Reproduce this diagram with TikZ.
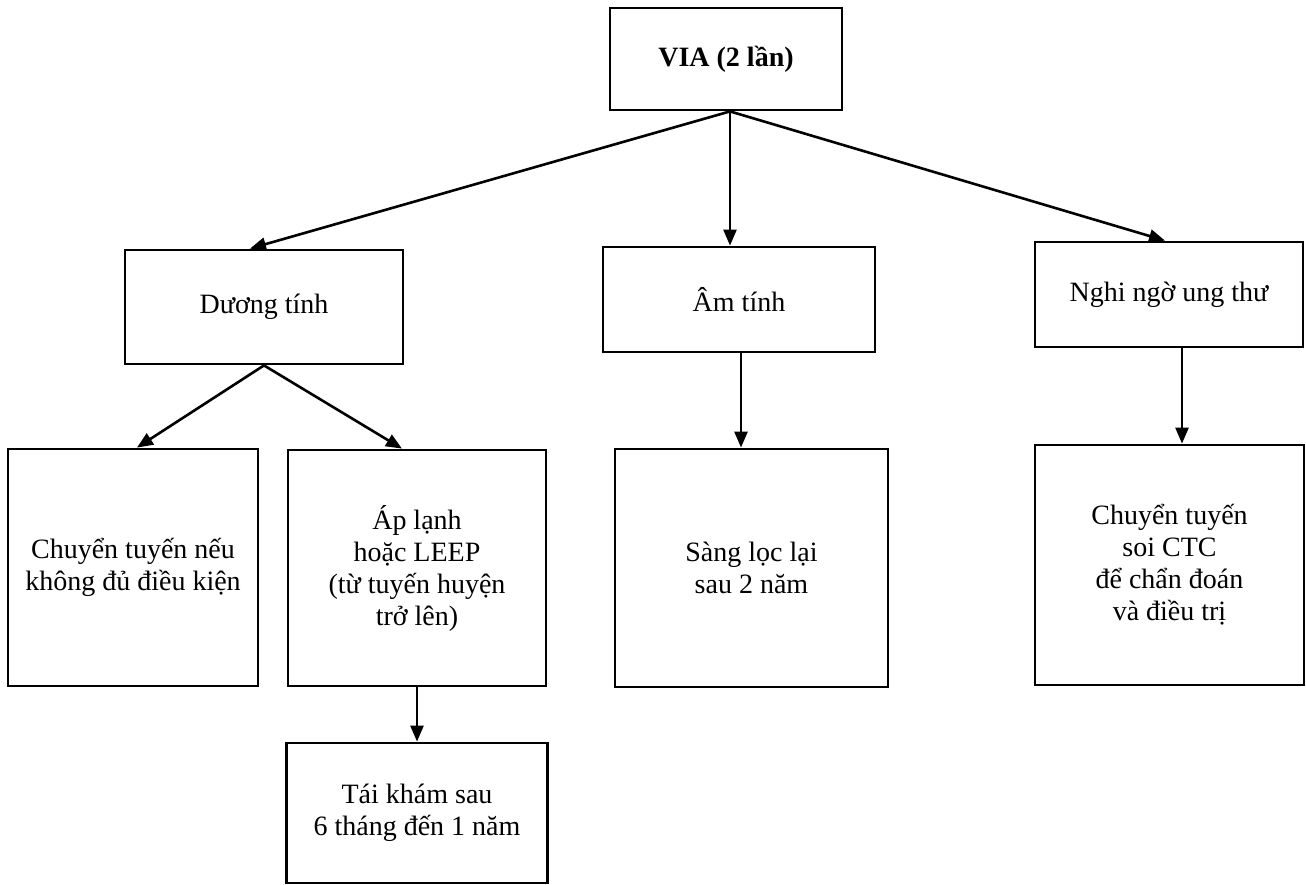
\documentclass[tikz,border=0pt]{standalone}
\usepackage{fontspec}
\setmainfont{Liberation Serif}
\usetikzlibrary{arrows.meta,calc}
\tikzset{
  box/.style={draw, line width=2.8pt, align=center, inner sep=0pt,
    font=\fontsize{28}{32}\selectfont},
  arr/.style={line width=2.6pt, -{Triangle[length=16pt,width=13pt]}}
}
\begin{document}
\begin{tikzpicture}[x=1pt,y=-1pt]
\useasboundingbox[fill=white] (0,0) rectangle (1306,885);
% top
\node[box, minimum width=232pt, minimum height=102pt,
  font=\bfseries\fontsize{28}{32}\selectfont] (via) at (726,59) {VIA (2 lần)};
% second row
\node[box, minimum width=278pt, minimum height=114pt] (pos) at (264,307) {Dương tính};
\node[box, minimum width=272pt, minimum height=105pt] (neg) at (739,299.5) {Âm tính};
\node[box, minimum width=268pt, minimum height=105pt] (sus) at (1169,294.5) {Nghi ngờ ung thư};
% third row
\node[box, minimum width=250pt, minimum height=237pt] (ref) at (133,567.5)
  {Chuyển tuyến nếu\\không đủ điều kiện};
\node[box, minimum width=258pt, minimum height=236pt] (ap) at (417,568)
  {Áp lạnh\\hoặc LEEP\\(từ tuyến huyện\\trở lên)};
\node[box, minimum width=273pt, minimum height=238pt] (sl) at (751.5,568)
  {Sàng lọc lại\\sau 2 năm};
\node[box, minimum width=269pt, minimum height=240pt] (ctc) at (1169.5,565)
  {Chuyển tuyến\\soi CTC\\để chẩn đoán\\và điều trị};
% fourth row
\node[box, minimum width=261pt, minimum height=140pt] (tk) at (417,813)
  {Tái khám sau\\6 tháng đến 1 năm};
% connectors
\coordinate (vs) at ($(via.south)+(4,0)$);
\draw[arr] (vs) -- ($(pos.north)+(-14,0)$);
\draw[arr] (vs) -- (vs |- neg.north);
\draw[arr] (vs) -- ($(sus.north)+(-4,0)$);
\draw[arr] (pos.south) -- ($(ref.north)+(4,0)$);
\draw[arr] (pos.south) -- ($(ap.north)+(-15,0)$);
\draw[arr] (ap.south) -- (tk.north);
\draw[arr] ($(neg.south)+(2,0)$) coordinate (nb) -- (nb |- sl.north);
\draw[arr] ($(sus.south)+(13,0)$) coordinate (sb) -- (sb |- ctc.north);
\end{tikzpicture}
\end{document}
